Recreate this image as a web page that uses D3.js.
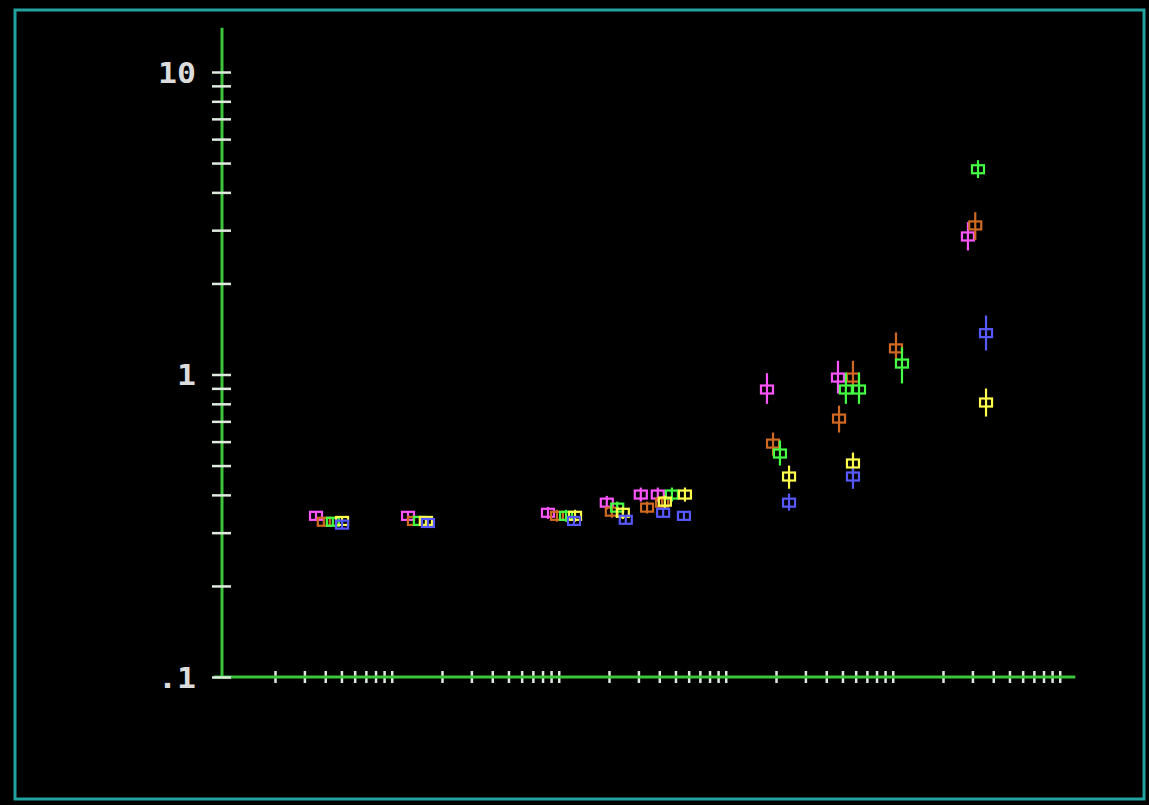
<!DOCTYPE html>
<html>
<head>
<meta charset="utf-8">
<script src="https://cdn.jsdelivr.net/npm/d3@7"></script>
<style>
  html, body { margin: 0; padding: 0; background: #000; }
  svg { display: block; }
</style>
</head>
<body>
<svg id="chart" width="1149" height="805"></svg>
<script>
// Measured points, one set of arrays per series: x, y and the error-bar ends.
const magentaX  = [1.76, 6.26, 43.1, 97, 155, 196, 883, 2350, 14100];
const magentaY  = [0.341, 0.341, 0.349, 0.377, 0.401, 0.401, 0.892, 0.977, 2.86];
const magentaLo = [0.331, 0.331, 0.333, 0.358, 0.380, 0.380, 0.80, 0.865, 2.57];
const magentaHi = [0.351, 0.351, 0.365, 0.397, 0.423, 0.423, 1.01, 1.11, 3.19];

const orangeX  = [1.96, 6.79, 48.8, 104, 169, 208, 960, 2385, 2890, 5230, 15600];
const orangeY  = [0.326, 0.328, 0.341, 0.352, 0.363, 0.377, 0.591, 0.715, 0.977, 1.22, 3.11];
const orangeLo = [0.317, 0.319, 0.326, 0.336, 0.347, 0.360, 0.539, 0.643, 0.865, 1.087, 2.78];
const orangeHi = [0.336, 0.338, 0.357, 0.369, 0.380, 0.395, 0.643, 0.789, 1.11, 1.377, 3.44];

const greenX  = [2.22, 7.38, 55.3, 112, 238, 1056, 2620, 3140, 5680, 16200];
const greenY  = [0.326, 0.328, 0.341, 0.363, 0.401, 0.548, 0.892, 0.892, 1.087, 4.77];
const greenLo = [0.317, 0.319, 0.326, 0.347, 0.380, 0.50, 0.80, 0.80, 0.934, 4.46];
const greenHi = [0.336, 0.338, 0.357, 0.380, 0.423, 0.605, 1.015, 1.015, 1.229, 5.11];

const yellowX  = [2.52, 8.02, 62.6, 121, 216, 285, 1197, 2890, 18100];
const yellowY  = [0.328, 0.328, 0.341, 0.349, 0.380, 0.401, 0.460, 0.508, 0.808];
const yellowLo = [0.319, 0.319, 0.326, 0.333, 0.362, 0.380, 0.419, 0.467, 0.726];
const yellowHi = [0.338, 0.338, 0.357, 0.365, 0.398, 0.423, 0.50, 0.552, 0.899];

const blueX  = [2.52, 8.24, 61.7, 126, 211, 281, 1197, 2890, 18100];
const blueY  = [0.319, 0.323, 0.328, 0.331, 0.349, 0.341, 0.377, 0.460, 1.37];
const blueLo = [0.310, 0.314, 0.319, 0.322, 0.339, 0.331, 0.355, 0.419, 1.20];
const blueHi = [0.328, 0.332, 0.338, 0.341, 0.360, 0.351, 0.404, 0.489, 1.567];

// Axis ticks
const xTickMantissas = [1, 1.5, 2, 2.5, 3, 3.5, 4, 4.5, 5];
const xTickDecades   = [1, 10, 100, 1000, 10000];
const yTicks = [0.1, 0.2, 0.3, 0.4, 0.5, 0.6, 0.7, 0.8, 0.9,
                1, 2, 3, 4, 5, 6, 7, 8, 9, 10];
const yTickLabels = { 0.1: ".1", 1: "1", 10: "10" };
const xExtent = [0.43, 62000];
const yTop = 14;

const seriesColors = ["#ff55ff", "#d06a22", "#44ff44", "#ffff4c", "#5858ff"];
const series = [
  { x: magentaX, y: magentaY, lo: magentaLo, hi: magentaHi },
  { x: orangeX,  y: orangeY,  lo: orangeLo,  hi: orangeHi },
  { x: greenX,   y: greenY,   lo: greenLo,   hi: greenHi },
  { x: yellowX,  y: yellowY,  lo: yellowLo,  hi: yellowHi },
  { x: blueX,    y: blueY,    lo: blueLo,    hi: blueHi }
];

const svg = d3.select("#chart");
const axisGreen = "#3cc43c";
const tickColor = "#dfeadf";

// Frame
svg.append("rect")
  .attr("x", 15).attr("y", 10).attr("width", 1129).attr("height", 789)
  .attr("fill", "none").attr("stroke", "#22a3a0").attr("stroke-width", 3);

const x = d3.scaleLog().domain([1, 10000]).range([275, 943]);
const y = d3.scaleLog().domain([0.1, 10]).range([677, 72]);
const originX = 222;
const originY = y(0.1);

// X axis: ticks cross the baseline
const xTicks = [];
xTickDecades.forEach(d => xTickMantissas.forEach(m => xTicks.push(m * d)));

const gx = svg.append("g").attr("transform", `translate(0,${originY})`)
  .call(d3.axisBottom(x).tickValues(xTicks).tickFormat("").tickSizeOuter(0));
gx.select(".domain").remove();
gx.selectAll(".tick line")
  .attr("y1", -6).attr("y2", 6)
  .attr("stroke", tickColor).attr("stroke-width", 2.5);

svg.append("line")
  .attr("x1", x(xExtent[0])).attr("x2", x(xExtent[1]))
  .attr("y1", originY).attr("y2", originY)
  .attr("stroke", axisGreen).attr("stroke-width", 3);

// Y axis
svg.append("line")
  .attr("x1", originX).attr("x2", originX)
  .attr("y1", y(yTop)).attr("y2", originY)
  .attr("stroke", axisGreen).attr("stroke-width", 3);

const gy = svg.append("g").attr("transform", `translate(${originX},0)`)
  .call(d3.axisLeft(y).tickValues(yTicks)
    .tickFormat(v => yTickLabels[v] || "").tickSizeOuter(0));
gy.select(".domain").remove();
gy.selectAll(".tick line")
  .attr("x1", -10).attr("x2", 9)
  .attr("stroke", tickColor).attr("stroke-width", 2.5);
gy.selectAll(".tick text")
  .filter(function () { return this.textContent !== ""; })
  .attr("x", -26)
  .attr("dy", "0.36em")
  .attr("fill", "#dcdcdc")
  .attr("font-family", "'DejaVu Sans Mono', monospace")
  .attr("font-weight", "bold")
  .attr("font-size", 28)
  .attr("text-anchor", "end")
  .attr("textLength", function () { return this.textContent.length * 19; })
  .attr("lengthAdjust", "spacingAndGlyphs");

// Points: open box split by the vertical error bar
const markW = 12, markH = 8;
series.forEach((s, i) => {
  const c = seriesColors[i];
  const g = svg.append("g");
  const pts = s.x.map((xv, j) => ({ x: xv, y: s.y[j], lo: s.lo[j], hi: s.hi[j] }));
  g.selectAll("line.err").data(pts).join("line")
    .attr("class", "err")
    .attr("x1", d => x(d.x)).attr("x2", d => x(d.x))
    .attr("y1", d => y(d.hi)).attr("y2", d => y(d.lo))
    .attr("stroke", c).attr("stroke-width", 2.2);
  g.selectAll("rect").data(pts).join("rect")
    .attr("x", d => x(d.x) - markW / 2)
    .attr("y", d => y(d.y) - markH / 2)
    .attr("width", markW).attr("height", markH)
    .attr("fill", "none").attr("stroke", c).attr("stroke-width", 2.2);
});
</script>
</body>
</html>
